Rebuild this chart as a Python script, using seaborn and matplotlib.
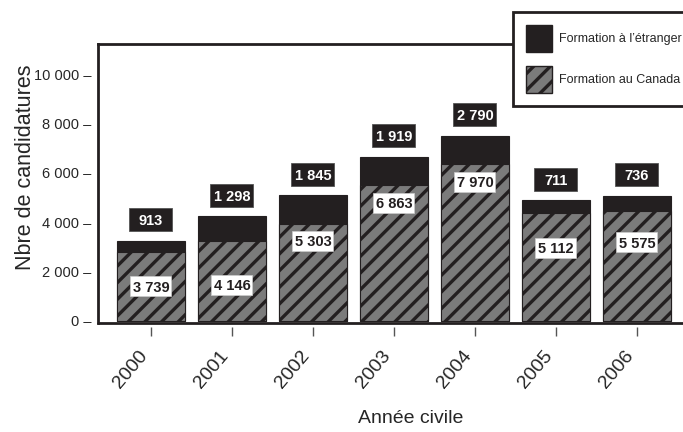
import matplotlib.pyplot as plt
import seaborn as sns
import pandas as pd
from matplotlib.patches import Patch, Rectangle

# values
years = ["2000", "2001", "2002", "2003", "2004", "2005", "2006"]
canada_bar = [2790, 3240, 3930, 5510, 6370, 4385, 4440]
foreign_bar = [450, 1000, 1160, 1130, 1130, 505, 630]
canada_label = ["3 739", "4 146", "5 303", "6 863", "7 970", "5 112", "5 575"]
foreign_label = ["913", "1 298", "1 845", "1 919", "2 790", "711", "736"]
y_ticks = [0, 2000, 4000, 6000, 8000, 10000]

# how far (px) the white label sits below the top of the hatched part
label_drop = [34, 44, 17, 18, 18, 35, 31]

BLACK = "#231f20"
GRAY = "#7b7b7b"

sns.set_style("white")
plt.rcParams["font.family"] = ["Liberation Sans", "DejaVu Sans"]
plt.rcParams["hatch.linewidth"] = 2.4

df = pd.DataFrame({"year": years, "canada": canada_bar, "foreign": foreign_bar})
df["total"] = df["canada"] + df["foreign"]

W_PX, H_PX = 683, 432
fig = plt.figure(figsize=(6.83, 4.32), dpi=100)
left, right, top, bottom = 98, 700, 44, 327
ax = fig.add_axes([left / W_PX, 1 - bottom / H_PX, (right - left) / W_PX, (bottom - top) / H_PX])

sns.barplot(data=df, x="year", y="total", color=BLACK, saturation=1, width=0.83,
            edgecolor=BLACK, linewidth=0.8, ax=ax)
sns.barplot(data=df, x="year", y="canada", color=GRAY, saturation=1, width=0.83,
            edgecolor=BLACK, linewidth=0.8, hatch="//", ax=ax)

ax.set_xlim(-0.654, 6.778)
ax.set_ylim(-243, 11215)

# size of one pixel in data units
px = (6.778 + 0.654) / (right - left)
py = (11215 + 243) / (bottom - top)

for i in range(len(years)):
    tot = canada_bar[i] + foreign_bar[i]
    yc = tot + 21 * py
    ax.add_patch(Rectangle((i - 21.5 * px, yc - 11.5 * py), 43 * px, 23 * py,
                           fc=BLACK, ec="#555555", lw=0.6, zorder=4, clip_on=False))
    ax.text(i, yc, foreign_label[i], color="white", ha="center", va="center_baseline",
            fontsize=10.5, fontweight="bold", zorder=5)

    yc = canada_bar[i] - label_drop[i] * py
    ax.add_patch(Rectangle((i - 20.5 * px, yc - 10 * py), 41 * px, 20 * py,
                           fc="white", ec="#cccccc", lw=0.5, zorder=4))
    ax.text(i, yc, canada_label[i], color=BLACK, ha="center", va="center_baseline",
            fontsize=10.5, fontweight="bold", zorder=5)

# axis frame
for s in ["left", "top"]:
    ax.spines[s].set_linewidth(2)
    ax.spines[s].set_color(BLACK)
ax.spines["right"].set_visible(False)
ax.spines["bottom"].set_visible(False)
ax.spines["left"].set_bounds(-81, 11215)
ax.axhline(-81, color=BLACK, lw=2, clip_on=False, zorder=3)

ax.set_yticks(y_ticks)
ax.set_yticklabels([f"{v:,}".replace(",", " ") + " \u2013" for v in y_ticks], fontsize=10.5)
ax.tick_params(axis="y", length=0, pad=5)
ax.tick_params(axis="x", bottom=True, length=6.5, width=1, color="#555555", pad=8)
plt.setp(ax.get_xticklabels(), rotation=50, ha="right", va="top", fontsize=14)

ax.set_xlabel("Année civile", fontsize=14, va="top")
ax.xaxis.set_label_coords((411 - left) / (right - left), (bottom - 410) / (bottom - top))
ax.set_ylabel("Nbre de candidatures", fontsize=15.5)
ax.yaxis.set_label_coords((36 - left) / (right - left), (bottom - 167) / (bottom - top))

handles = [Patch(fc=BLACK, ec=BLACK), Patch(fc=GRAY, ec=BLACK, hatch="//")]
leg = fig.legend(handles, ["Formation à l\u2019étranger", "Formation au Canada"],
                 loc="upper left", bbox_to_anchor=(513 / W_PX, 1 - 12 / H_PX),
                 borderaxespad=0, frameon=True, fancybox=False, framealpha=1,
                 edgecolor=BLACK, fontsize=9, borderpad=1.05, handlelength=2.1,
                 handleheight=2.95, handletextpad=0.55, labelspacing=1.1)
leg.get_frame().set_linewidth(2)

fig.savefig("out.png", dpi=100)
